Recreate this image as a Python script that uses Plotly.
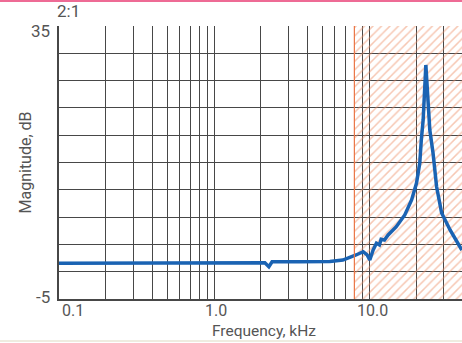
import numpy as np
import plotly.graph_objects as go

# ---- data ----
freq_khz = [0.1, 0.5, 1.0, 1.97, 2.12, 2.25, 2.36, 3.5, 5.56, 6.74, 7.49, 8.2, 9.12, 9.67,
            10.06, 10.57, 11.1, 11.6, 11.9, 12.5, 13.2, 14.9, 16.9, 18.7, 20.1, 21.1,
            21.6, 22.2, 23.1, 24.5, 25.7, 27.1, 29.2, 33.1, 39.4]
magnitude_db = [0.23, 0.26, 0.28, 0.30, 0.30, -0.27, 0.45, 0.47, 0.50, 0.71, 1.08, 1.45, 1.93, 1.45,
                0.71, 2.18, 3.16, 2.91, 3.75, 3.65, 4.38, 5.59, 7.31, 9.51, 11.95, 14.88,
                18.30, 21.23, 29.29, 19.76, 16.39, 11.45, 7.60, 5.11, 2.18]

band_start_khz = 8.0
band_end_khz = 40.0
y_min, y_max, y_step = -5, 35, 4
grid_freqs = [m * d for d in (0.1, 1.0, 10.0) for m in range(1, 10)] + [40.0]
x_tick_vals = [0.1, 1.0, 10.0]
x_tick_text = ["0.1", "1.0", "10.0"]
y_tick_vals = [35, -5]
y_tick_text = ["35", "-5"]
ratio_label = "2:1"
x_title = "Frequency, kHz"
y_title = "Magnitude, dB"

FONT = "Roboto, Liberation Sans, sans-serif"
TXT = "#555555"
GRID = "#474747"

fig = go.Figure()

# hatched band
fig.add_trace(go.Scatter(
    x=[band_start_khz, band_end_khz, band_end_khz, band_start_khz, band_start_khz],
    y=[y_min, y_min, y_max, y_max, y_min],
    fill="toself", mode="none",
    fillcolor="rgba(0,0,0,0)",
    fillpattern=dict(shape="/", fgcolor="#ee9068", bgcolor="rgba(0,0,0,0)",
                     size=6, solidity=0.25),
    hoverinfo="skip", showlegend=False,
))
fig.add_shape(type="line", x0=band_start_khz, x1=band_start_khz, y0=y_min, y1=y_max,
              xref="x", yref="y", line=dict(color="#f07a4a", width=1.2))

fig.add_trace(go.Scatter(
    x=freq_khz, y=magnitude_db, mode="lines",
    line=dict(color="#1a63b3", width=3.5),
    showlegend=False,
))

fig.update_xaxes(type="log", range=[-1, np.log10(39.5)],
                 tickvals=grid_freqs, showticklabels=False,
                 showgrid=True, gridcolor=GRID, gridwidth=1.3,
                 showline=True, linecolor=GRID, linewidth=1.5,
                 zeroline=False, ticks="")
fig.update_yaxes(range=[y_min, y_max], dtick=y_step, tick0=y_min,
                 showticklabels=False,
                 showgrid=True, gridcolor=GRID, gridwidth=1.3,
                 showline=True, linecolor=GRID, linewidth=1.5,
                 zeroline=False, ticks="")

ann = []
for v, t, anc, xs in zip(x_tick_vals, x_tick_text, ["left", "center", "center"], [2, 2, 3]):
    ann.append(dict(x=np.log10(v), y=0, xref="x", yref="paper", text=t, showarrow=False,
                    xanchor=anc, yanchor="top", xshift=xs, yshift=-1, borderpad=0,
                    font=dict(family=FONT, size=16, color=TXT)))
for v, t, ys in zip(y_tick_vals, y_tick_text, [-5, 2]):
    ann.append(dict(x=0, y=v, xref="paper", yref="y", text=t, showarrow=False,
                    xanchor="right", yanchor="middle", xshift=-7, yshift=ys,
                    font=dict(family=FONT, size=17, color=TXT)))
ann.append(dict(x=0, y=1, xref="paper", yref="paper", text=ratio_label, showarrow=False,
                xanchor="left", yanchor="bottom", xshift=-4, yshift=3,
                font=dict(family=FONT, size=17, color=TXT)))
ann.append(dict(x=0.5, y=0, xref="paper", yref="paper", text=x_title, showarrow=False,
                xanchor="center", yanchor="top", xshift=3, yshift=-22, borderpad=0,
                font=dict(family=FONT, size=15.5, color=TXT)))
ann.append(dict(x=0, y=0.5, xref="paper", yref="paper", text=y_title, showarrow=False,
                textangle=-90, xanchor="center", yanchor="middle", xshift=-34, yshift=0,
                font=dict(family=FONT, size=16, color=TXT)))

shapes = [
    dict(type="line", xref="paper", yref="paper", x0=-0.2, x1=1.05,
         y0=1 + 25 / 273, y1=1 + 25 / 273, line=dict(color="#ee6b95", width=2)),
    dict(type="line", xref="paper", yref="paper", x0=-0.2, x1=1.05,
         y0=-42 / 273, y1=-42 / 273, line=dict(color="#efece0", width=2)),
]
for s in shapes:
    fig.add_shape(**s)

fig.update_layout(
    width=462, height=343,
    margin=dict(l=59, r=0, t=26, b=44),
    paper_bgcolor="white", plot_bgcolor="white",
    annotations=ann,
    showlegend=False,
)

fig.write_html("out.html", config={"displayModeBar": False},
               post_script="document.body.style.margin='0';document.body.style.padding='0';")
